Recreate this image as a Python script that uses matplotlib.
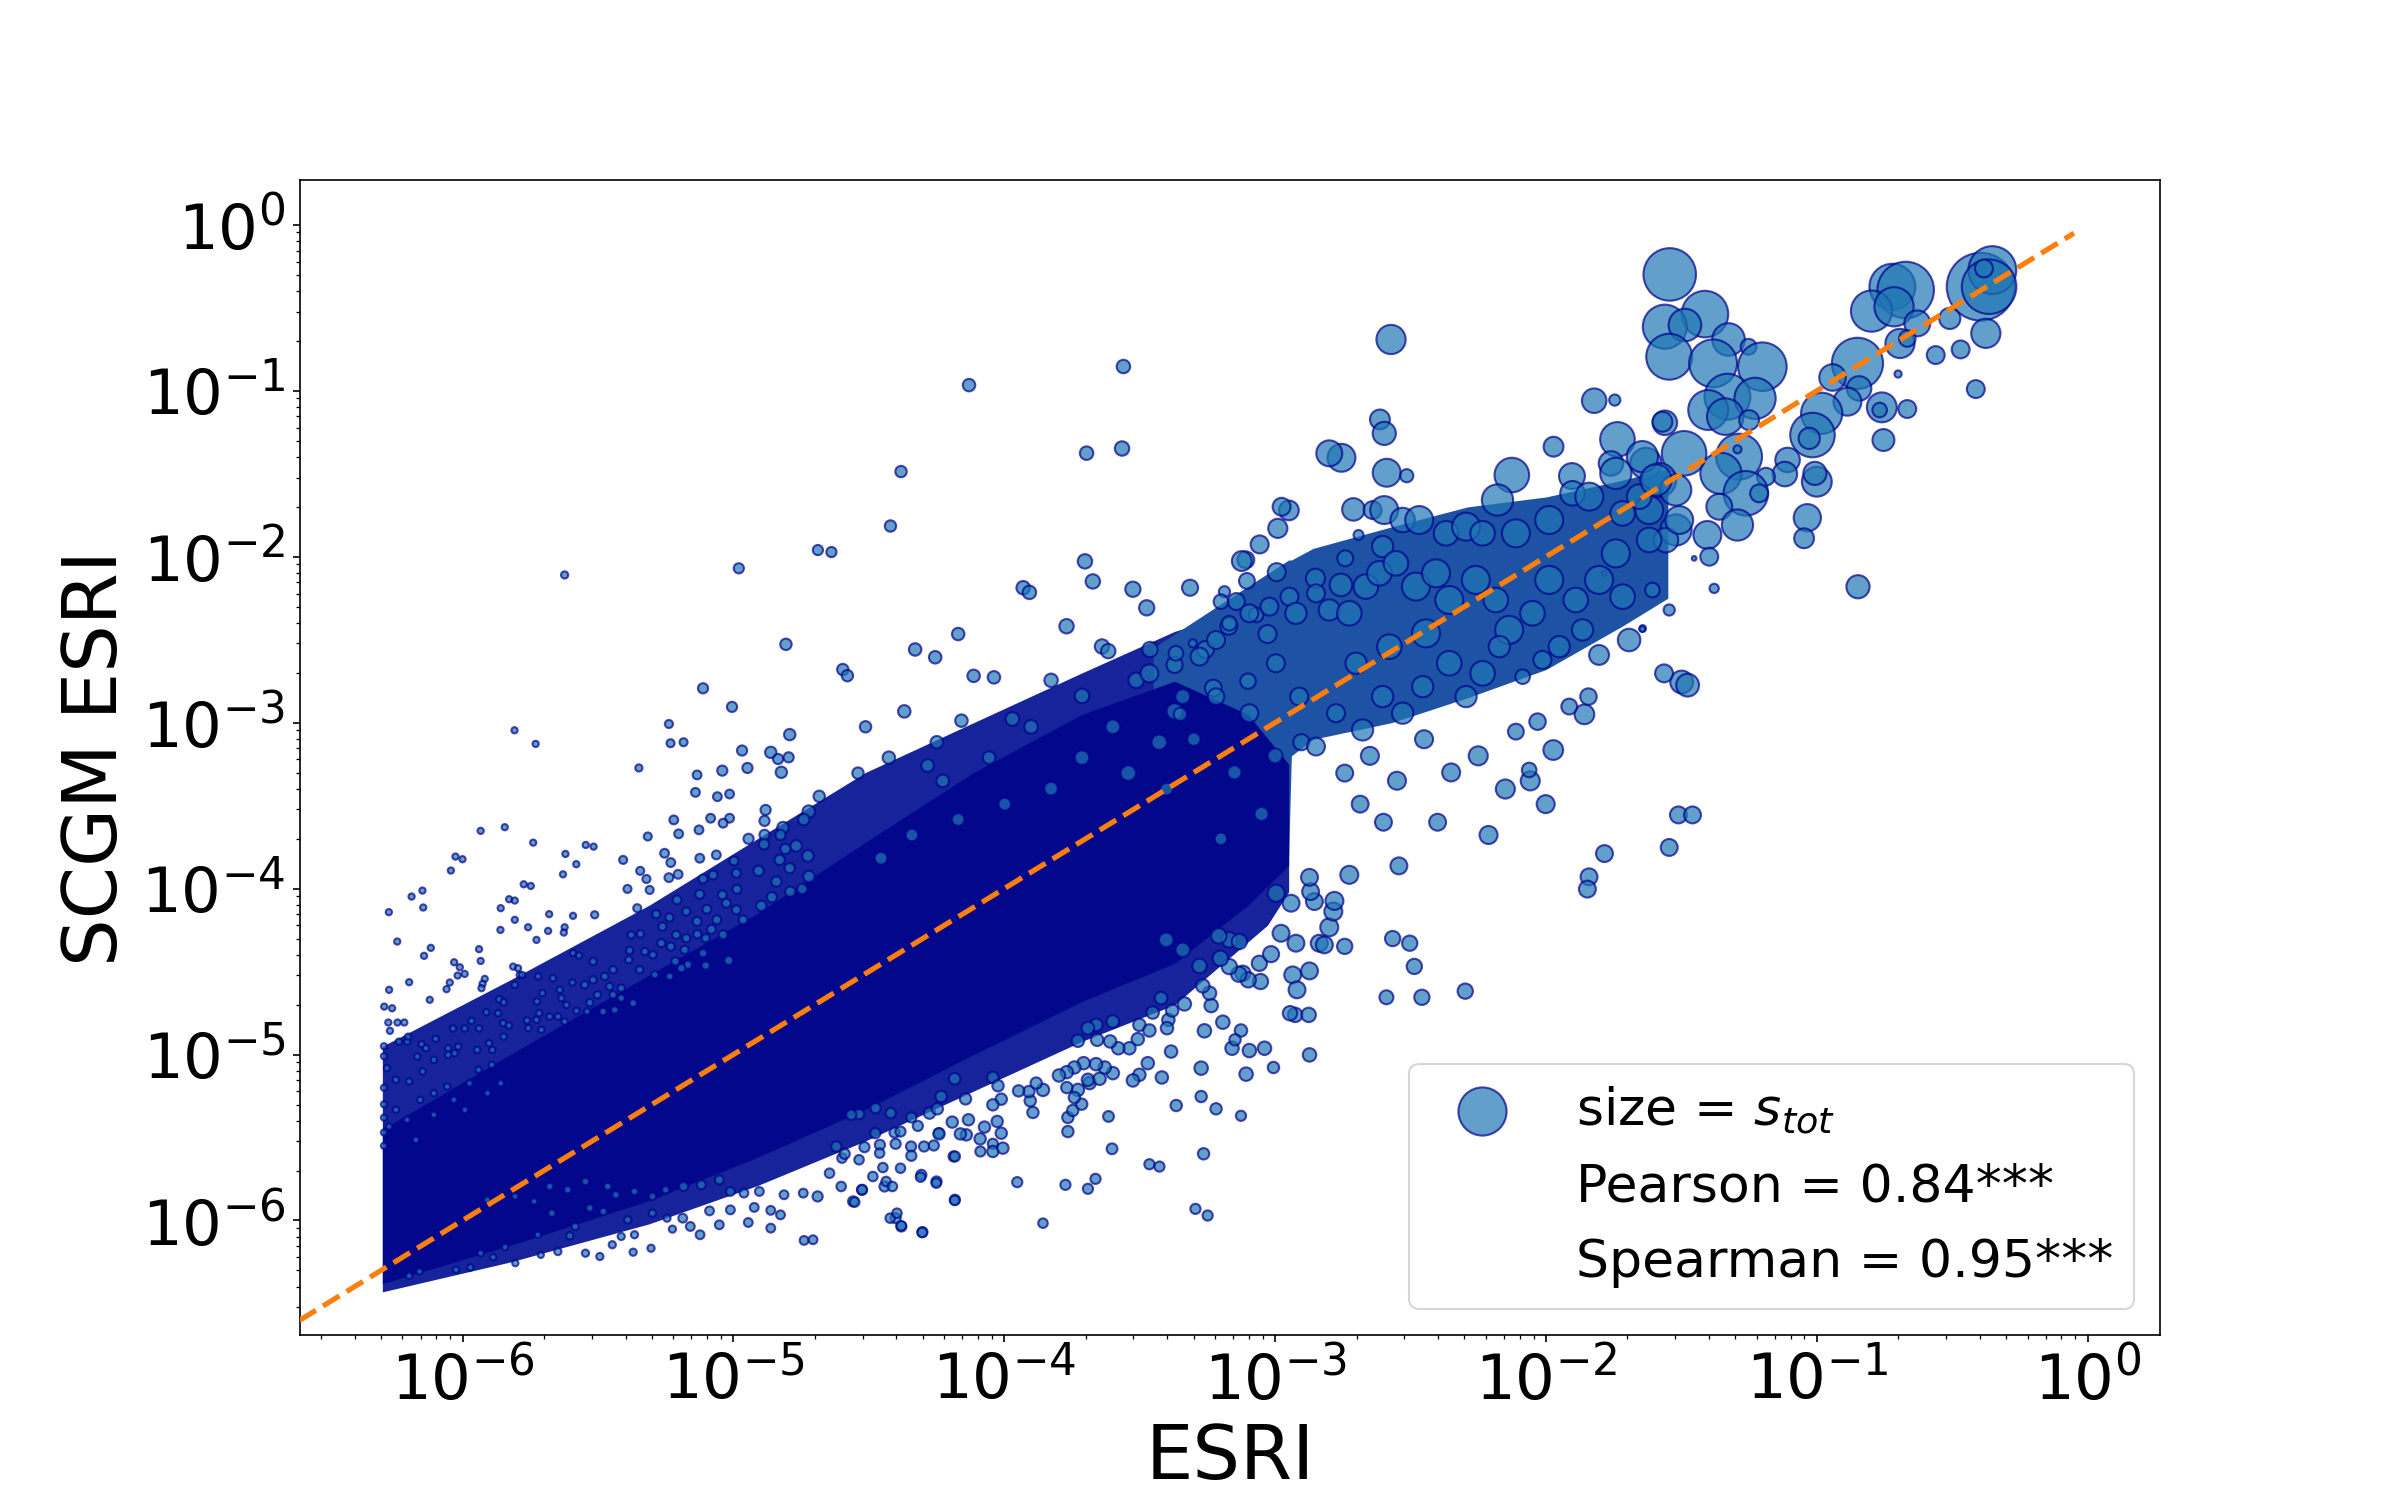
import numpy as np
import matplotlib.pyplot as plt

# all positions are log10(ESRI), log10(SCGM ESRI)
# densest part of the cloud, where the dots merge into a solid area
core_x = [-6.296, -5.824, -5.311, -4.912, -4.512, -4.113, -3.713, -3.371, -3.100, -2.950]
core_hi = [-5.45, -5.00, -4.52, -4.15, -3.72, -3.30, -2.95, -2.75, -2.95, -3.25]
core_lo = [-6.38, -6.15, -5.88, -5.62, -5.33, -5.00, -4.68, -4.45, -4.10, -3.86]

# less dense zone around it
halo_x = [-6.296, -5.824, -5.311, -4.912, -4.512, -4.113, -3.713, -3.371, -3.028, -2.950]
halo_hi = [-4.95, -4.55, -4.10, -3.70, -3.30, -3.00, -2.70, -2.45, -2.28, -2.25]
halo_lo = [-6.43, -6.25, -6.02, -5.79, -5.52, -5.22, -4.92, -4.70, -4.22, -4.02]

# overlapping medium bubbles further right
band_x = [-3.45, -3.14, -2.95, -2.94, -2.86, -2.57, -2.29, -2.00, -1.72, -1.55]
band_hi = [-2.55, -2.22, -2.02, -2.02, -1.95, -1.82, -1.70, -1.64, -1.54, -1.47]
band_lo = [-3.90, -3.85, -3.80, -3.20, -3.10, -3.00, -2.85, -2.68, -2.42, -2.25]

# (log10 x, log10 y, size) small points above the dense part, left side
pts_upper_left = [
    (-5.623, -2.110, 4), (-4.980, -2.070, 8), (-4.688, -1.960, 8), (-4.806, -2.528, 10), (-5.112, -2.793, 8),
    (-5.005, -2.905, 8), (-5.808, -3.046, 3), (-5.730, -3.128, 3), (-5.238, -3.008, 5), (-5.232, -3.124, 5),
    (-5.184, -3.118, 5), (-4.968, -3.168, 8), (-5.349, -3.273, 4), (-4.792, -3.072, 10), (-4.862, -3.179, 10),
    (-4.835, -3.219, 8), (-4.796, -3.209, 8), (-4.823, -3.299, 10), (-5.041, -3.289, 8), (-4.948, -3.273, 8),
    (-5.134, -3.315, 6), (-5.140, -3.420, 6), (-5.059, -3.446, 6), (-5.014, -3.430, 6), (-4.881, -3.526, 8),
    (-4.722, -3.536, 12), (-5.220, -3.586, 6), (-5.084, -3.576, 6), (-5.014, -3.576, 6), (-5.038, -3.606, 6),
    (-4.885, -3.592, 8), (-5.127, -3.646, 6), (-5.202, -3.670, 6), (-5.316, -3.686, 5), (-4.944, -3.700, 8),
    (-4.885, -3.676, 8), (-4.817, -3.632, 10), (-4.887, -3.733, 8), (-4.808, -3.761, 8), (-4.768, -3.743, 10),
    (-4.725, -3.803, 10), (-5.254, -3.787, 6), (-5.231, -3.843, 6), (-5.124, -3.817, 6), (-5.063, -3.797, 6),
    (-4.998, -3.833, 6), (-4.829, -3.827, 8), (-4.792, -3.877, 8), (-4.907, -3.893, 8), (-4.989, -3.907, 6),
    (-5.112, -3.942, 6), (-5.075, -3.918, 6), (-5.238, -3.934, 6), (-5.204, -3.914, 6), (-5.344, -3.893, 5),
    (-5.321, -3.942, 5), (-5.407, -3.827, 5), (-5.391, -4.002, 5), (-5.309, -4.008, 5), (-5.124, -4.034, 6),
    (-4.987, -4.004, 6), (-5.041, -4.038, 6), (-4.841, -3.958, 8), (-4.790, -4.018, 8), (-4.746, -4.002, 8),
    (-4.721, -3.927, 10), (-4.858, -4.052, 8), (-4.897, -4.104, 8), (-5.208, -4.068, 6), (-5.355, -4.118, 5),
    (-5.285, -4.154, 5), (-5.236, -4.174, 5), (-5.174, -4.138, 5), (-5.134, -4.198, 6), (-5.098, -4.124, 6),
    (-5.061, -4.188, 6), (-5.026, -4.088, 6), (-4.989, -4.128, 6), (-4.964, -4.188, 6), (-5.262, -4.229, 5),
    (-5.211, -4.279, 5), (-5.174, -4.299, 5), (-5.133, -4.275, 5), (-5.102, -4.299, 5), (-5.038, -4.279, 6),
    (-5.081, -4.245, 6), (-5.377, -4.279, 4), (-5.343, -4.273, 4), (-5.266, -4.329, 5), (-5.231, -4.349, 5),
    (-5.180, -4.369, 5), (-5.383, -4.373, 4), (-5.386, -4.429, 4), (-5.327, -4.379, 4), (-5.297, -4.399, 4),
    (-5.214, -4.439, 5), (-5.168, -4.459, 5), (-5.112, -4.389, 5), (-5.102, -4.464, 5), (-5.017, -4.433, 6),
    (-5.346, -4.489, 4), (-5.290, -4.519, 4), (-5.235, -4.529, 4), (-5.192, -4.480, 5), (-5.444, -4.489, 4),
    (-5.475, -4.529, 4), (-5.518, -4.550, 4), (-5.549, -4.580, 4), (-5.457, -4.590, 4), (-5.414, -4.600, 4),
    (-5.370, -4.690, 4), (-5.414, -4.660, 4), (-5.444, -4.640, 4), (-5.502, -4.640, 4), (-5.530, -4.687, 4),
    (-5.481, -4.741, 4), (-5.438, -4.731, 4), (-5.579, -4.737, 3), (-5.540, -4.741, 3), (-5.616, -4.701, 3),
    (-5.635, -4.660, 3), (-5.641, -4.610, 3), (-5.594, -4.566, 3), (-5.666, -4.540, 3), (-5.721, -4.529, 3),
    (-5.678, -4.771, 3), (-5.623, -4.801, 3), (-5.647, -4.771, 3), (-5.709, -4.851, 3), (-5.727, -4.791, 3),
    (-5.717, -4.751, 3), (-5.757, -4.841, 3), (-5.725, -4.680, 3), (-5.705, -4.630, 3), (-5.789, -4.520, 3),
    (-5.807, -4.580, 3), (-5.813, -4.470, 3), (-5.795, -4.480, 3), (-5.780, -4.520, 3), (-5.727, -4.309, 3),
    (-5.758, -4.233, 3), (-5.807, -4.188, 3), (-5.859, -4.118, 3), (-5.828, -4.064, 3), (-5.807, -4.072, 3),
    (-5.860, -4.249, 3), (-5.774, -3.974, 3), (-5.748, -3.984, 3), (-5.680, -4.154, 3), (-5.684, -4.255, 3),
    (-5.623, -4.233, 3), (-5.626, -4.265, 3), (-5.592, -4.164, 3), (-5.512, -4.158, 4), (-5.592, -4.389, 3),
    (-5.570, -4.403, 3), (-5.518, -4.439, 4), (-5.739, -3.723, 3), (-5.620, -3.791, 3), (-5.629, -3.914, 3),
    (-5.580, -3.853, 3), (-5.545, -3.737, 3), (-5.516, -3.747, 3), (-5.844, -3.630, 3), (-5.933, -3.652, 3),
    (-6.026, -3.807, 3), (-6.000, -3.823, 3), (-6.043, -3.891, 3), (-6.148, -4.012, 3), (-6.188, -4.048, 3),
    (-6.145, -4.114, 3), (-6.272, -4.142, 3), (-6.241, -4.319, 3), (-6.142, -4.405, 3), (-6.117, -4.357, 3),
    (-5.939, -4.365, 3), (-5.933, -4.436, 3), (-6.031, -4.444, 3), (-6.010, -4.474, 3), (-6.018, -4.524, 3),
    (-5.992, -4.514, 3), (-6.047, -4.566, 3), (-6.059, -4.606, 3), (-5.918, -4.544, 3), (-5.926, -4.574, 3),
    (-5.930, -4.600, 3), (-6.197, -4.564, 3), (-6.271, -4.610, 3), (-6.121, -4.670, 3), (-6.289, -4.711, 3),
    (-6.260, -4.721, 3), (-6.274, -4.807, 3), (-6.240, -4.807, 3), (-6.215, -4.807, 3), (-6.268, -4.857, 3),
    (-6.235, -4.922, 3), (-6.204, -4.922, 3), (-6.201, -4.892, 3), (-6.151, -4.938, 3), (-6.135, -4.962, 3),
    (-6.099, -4.905, 3), (-6.035, -4.843, 3), (-5.992, -4.843, 3), (-5.967, -4.797, 3), (-5.939, -4.843, 3),
    (-5.912, -4.745, 3), (-5.869, -4.751, 3), (-5.865, -4.667, 3), (-5.848, -4.685, 3), (-5.850, -4.811, 3),
    (-5.829, -4.825, 3), (-5.848, -4.892, 3), (-5.902, -4.932, 3), (-5.890, -4.972, 3), (-5.946, -4.972, 3),
    (-6.053, -4.962, 3), (-6.016, -4.952, 3), (-6.053, -5.002, 3), (-6.029, -4.992, 3), (-6.167, -5.012, 3),
    (-5.762, -4.795, 3),
    (-6.279, -5.082, 3), (-6.246, -5.152, 3), (-6.197, -5.162, 3), (-6.147, -5.102, 3), (-6.106, -5.032, 3),
    (-6.156, -5.273, 3), (-6.106, -5.233, 3), (-6.057, -5.193, 3), (-6.246, -5.333, 3), (-6.205, -5.393, 3),
    (-6.271, -5.434, 3), (-6.172, -5.514, 3), (-6.106, -5.363, 3), (-6.032, -5.273, 3), (-5.974, -5.173, 3),
    (-5.941, -5.092, 3), (-5.892, -5.062, 3), (-5.908, -5.233, 3), (-5.991, -5.333, 3), (-5.859, -5.173, 3),
    (-6.290, -5.200, 3), (-6.290, -5.300, 3), (-6.290, -5.380, 3), (-6.290, -5.470, 3), (-6.290, -5.550, 3),
    (-6.290, -4.950, 3), (-6.290, -5.010, 3),
]

# small points below the dense part, left side
pts_lower_left = [
    (-6.197, -6.333, 3), (-6.159, -6.307, 3), (-6.024, -6.297, 3), (-5.971, -6.283, 3), (-5.887, -6.221, 3),
    (-5.805, -6.257, 3), (-5.933, -6.197, 3), (-5.843, -6.160, 3), (-5.711, -6.207, 3), (-5.648, -6.187, 4),
    (-5.546, -6.197, 4), (-5.493, -6.217, 4), (-5.370, -6.191, 4), (-5.304, -6.167, 4), (-5.447, -6.146, 4),
    (-5.722, -6.086, 3), (-5.604, -6.092, 4), (-5.414, -6.096, 4), (-5.365, -6.086, 4), (-5.225, -6.052, 4),
    (-5.123, -6.086, 6), (-5.187, -5.986, 6), (-5.159, -6.036, 6), (-5.052, -6.026, 6), (-4.945, -6.012, 6),
    (-4.862, -6.046, 6), (-4.739, -6.120, 6), (-4.706, -6.116, 6), (-4.826, -5.966, 6), (-4.923, -5.921, 6),
    (-5.011, -5.936, 6), (-5.088, -5.942, 6), (-5.245, -5.986, 4), (-5.299, -5.956, 4), (-5.390, -5.996, 4),
    (-5.480, -5.946, 4), (-5.530, -5.925, 4), (-5.584, -6.036, 4), (-5.670, -5.956, 4), (-5.736, -5.885, 3),
    (-5.806, -5.855, 3), (-5.909, -5.875, 3), (-4.558, -5.885, 8), (-4.525, -5.815, 8), (-4.442, -5.795, 8),
    (-4.380, -6.036, 8), (-4.401, -5.986, 8), (-4.302, -6.070, 8), (-4.250, -5.765, 8), (-4.182, -5.875, 8),
    (-4.306, -5.725, 8), (-4.401, -5.538, 8), (-4.344, -5.554, 8), (-4.459, -5.544, 8), (-4.241, -5.474, 8),
    (-4.187, -5.614, 8), (-4.088, -5.584, 8), (-4.042, -5.538, 8), (-4.689, -5.855, 8), (-4.742, -5.835, 6),
    (-4.813, -5.845, 6), (-4.862, -5.939, 6), (-4.904, -5.825, 6), (-4.961, -5.835, 6), (-5.011, -5.825, 6),
    (-5.052, -5.755, 6), (-5.118, -5.785, 6), (-5.184, -5.795, 6), (-5.250, -5.815, 4), (-5.299, -5.855, 4),
    (-5.365, -5.825, 4), (-5.434, -5.845, 4), (-5.464, -5.795, 4), (-5.546, -5.765, 4), (-5.612, -5.815, 4),
    (-5.678, -5.795, 4),
]

# points below the line in the middle of the range
pts_lower_mid = [
    (-4.602, -5.795, 7), (-4.552, -5.889, 7), (-4.525, -5.815, 7), (-4.485, -5.735, 7), (-4.448, -5.681, 7),
    (-4.436, -5.765, 7), (-4.413, -5.795, 7), (-4.421, -5.986, 7), (-4.396, -5.956, 7), (-4.380, -6.032, 7),
    (-4.383, -5.685, 7), (-4.303, -6.072, 7), (-4.309, -5.739, 7), (-4.251, -5.775, 7), (-4.183, -5.879, 7),
    (-4.182, -5.614, 8), (-4.343, -5.610, 8), (-4.296, -5.554, 8), (-4.260, -5.548, 8), (-4.460, -5.594, 7),
    (-4.536, -5.634, 7), (-4.599, -5.624, 7), (-4.645, -5.715, 7), (-3.952, -5.769, 8), (-3.857, -6.016, 7),
    (-3.774, -5.785, 8), (-3.691, -5.809, 8), (-3.663, -5.749, 8), (-3.602, -5.568, 9), (-3.615, -5.373, 9),
    (-3.464, -5.661, 8), (-3.427, -5.675, 8), (-3.294, -5.930, 8), (-3.249, -5.970, 8), (-3.264, -5.598, 10),
    (-3.365, -5.307, 10), (-3.273, -5.253, 10), (-3.218, -5.327, 10), (-3.126, -5.369, 8), (-3.273, -5.082, 14),
    (-3.006, -5.078, 10), (-3.107, -5.118, 14), (-2.873, -5.002, 14), (-3.039, -4.962, 14), (-3.095, -4.976, 14),
    (-3.159, -4.962, 14), (-3.126, -4.855, 12), (-3.148, -4.911, 10), (-3.261, -4.857, 14), (-3.193, -4.805, 14),
    (-3.384, -4.982, 12), (-3.418, -5.138, 12), (-3.470, -5.052, 12), (-3.501, -5.122, 12), (-3.525, -5.156, 12),
    (-3.599, -5.112, 12), (-3.765, -5.464, 10), (-3.765, -5.379, 10), (-3.747, -5.337, 10), (-3.714, -5.299, 10),
    (-3.728, -5.213, 12), (-3.769, -5.199, 10), (-3.741, -5.259, 10), (-3.685, -5.172, 12), (-3.691, -5.152, 12),
    (-3.648, -5.146, 12), (-3.629, -5.078, 12), (-3.661, -5.058, 12), (-3.707, -5.052, 12), (-3.741, -5.078, 12),
    (-3.769, -5.106, 12), (-3.798, -5.126, 12), (-3.857, -5.213, 12), (-3.894, -5.349, 10), (-3.904, -5.279, 10),
    (-3.909, -5.223, 10), (-3.882, -5.172, 10), (-3.947, -5.219, 10), (-4.011, -5.269, 10), (-4.042, -5.303, 10),
    (-4.011, -5.474, 10), (-4.042, -5.584, 10), (-4.005, -5.564, 10), (-4.026, -5.403, 10), (-4.073, -5.437, 10),
    (-4.089, -5.508, 10), (-4.140, -5.484, 10), (-4.162, -5.478, 10), (-4.132, -5.393, 10), (-4.192, -5.407, 10),
    (-4.241, -5.478, 10), (-4.276, -5.353, 10), (-4.247, -5.327, 10), (-4.143, -5.267, 10), (-4.233, -5.253, 10),
    (-4.183, -5.146, 10), (-4.042, -5.138, 10), (-4.023, -5.188, 10), (-4.476, -5.474, 8), (-4.405, -5.470, 8),
    (-4.383, -5.464, 8), (-4.319, -5.430, 8), (-4.343, -5.379, 8), (-4.419, -5.353, 8), (-4.475, -5.323, 8),
    (-4.536, -5.359, 8), (-4.565, -5.363, 8), (-4.620, -5.554, 8), (-4.589, -5.598, 8), (-4.516, -5.558, 8),
    (-2.926, -4.761, 16), (-2.876, -4.761, 16), (-2.945, -4.751, 16), (-3.236, -4.705, 14), (-3.335, -4.695, 14),
    (-3.242, -4.630, 14), (-3.267, -4.586, 14), (-3.394, -4.791, 12), (-3.380, -4.735, 12), (-3.399, -4.841, 12),
    (-3.421, -4.660, 12), (-3.452, -4.747, 12), (-3.501, -4.821, 12), (-3.464, -4.855, 12), (-3.507, -4.907, 12),
    (-3.538, -4.962, 12), (-3.579, -4.962, 12), (-3.609, -4.921, 12), (-3.657, -4.911, 12), (-3.728, -4.917, 12),
    (-3.599, -4.801, 12), (-3.660, -4.821, 12), (-3.691, -4.841, 12), (-3.119, -4.510, 18), (-3.058, -4.450, 18),
    (-3.054, -4.560, 18), (-3.099, -4.550, 18), (-3.134, -4.516, 18), (-2.978, -4.269, 22), (-2.923, -4.329, 22),
    (-2.873, -4.496, 22), (-2.935, -4.520, 22), (-2.919, -4.610, 22), (-2.837, -4.329, 22), (-2.818, -4.339, 22),
    (-2.800, -4.233, 25), (-2.785, -4.138, 25), (-2.781, -4.074, 25), (-2.855, -4.078, 22), (-2.869, -4.018, 22),
    (-2.873, -3.932, 22), (-2.941, -4.088, 22), (-2.996, -4.028, 22), (-3.015, -4.395, 20), (-3.169, -4.470, 18),
    (-3.202, -4.420, 18), (-3.279, -4.466, 16), (-3.341, -4.369, 16), (-3.169, -4.309, 18), (-3.132, -4.319, 18),
    (-3.208, -4.285, 18), (-3.402, -4.309, 16), (-2.726, -3.917, 25),
]

# points above the line in the middle of the range
pts_upper_mid = [
    (-4.638, -1.972, 8), (-4.420, -1.815, 10), (-4.381, -1.487, 10), (-4.130, -0.966, 12), (-3.560, -0.854, 14),
    (-3.696, -1.376, 14), (-3.565, -1.348, 16), (-4.596, -2.680, 10), (-4.579, -2.717, 10), (-4.329, -2.559, 12),
    (-4.255, -2.606, 12), (-4.170, -2.466, 12), (-4.113, -2.718, 12), (-4.038, -2.727, 12), (-3.930, -2.187, 14),
    (-3.907, -2.215, 14), (-3.702, -2.028, 16), (-3.673, -2.149, 16), (-3.639, -2.541, 16), (-3.616, -2.569, 16),
    (-3.525, -2.196, 18), (-3.474, -2.308, 18), (-3.462, -2.559, 18), (-3.314, -2.187, 20), (-3.143, -2.270, 22),
    (-3.108, -2.019, 22), (-3.057, -1.926, 25), (-2.949, -1.721, 30), (-2.994, -2.093, 25), (-2.851, -2.130, 28),
    (-2.755, -1.404, 60), (-3.770, -2.419, 16), (-3.827, -2.745, 14), (-3.901, -3.025, 14), (-4.158, -2.988, 12),
    (-4.249, -3.118, 12), (-4.426, -3.211, 12), (-4.540, -3.304, 10), (-4.512, -3.025, 10), (-4.369, -2.932, 12),
    (-4.283, -3.258, 12), (-4.056, -3.211, 12), (-3.970, -2.978, 14), (-3.713, -2.839, 16), (-3.599, -3.025, 16),
    (-3.513, -2.745, 18), (-3.371, -2.652, 20), (-3.257, -2.559, 22), (-3.713, -3.211, 16), (-3.827, -3.398, 14),
    (-3.998, -3.491, 12), (-4.170, -3.584, 12), (-4.341, -3.677, 12), (-4.455, -3.817, 12), (-4.227, -3.351, 12),
    (-3.371, -2.932, 20), (-3.228, -2.792, 22), (-3.171, -2.419, 22), (-3.028, -2.466, 25), (-3.542, -3.304, 18),
    (-3.428, -3.118, 18), (-4.740, -3.584, 10), (-4.683, -3.444, 10), (-4.826, -3.677, 8),
]

# scattered points below the line on the right
pts_lower_right = [
    (-2.903, -3.118, 20), (-2.743, -3.304, 22), (-2.686, -3.491, 22), (-2.543, -3.863, 22), (-2.503, -4.329, 18),
    (-2.486, -4.469, 18), (-2.458, -4.655, 18), (-2.298, -4.618, 18), (-2.566, -4.301, 18), (-2.589, -4.655, 15),
    (-2.743, -4.348, 18), (-2.212, -3.677, 25), (-2.058, -3.351, 28), (-2.001, -3.491, 25), (-1.973, -3.165, 30),
    (-1.858, -2.950, 30), (-1.841, -3.929, 22), (-1.847, -4.003, 22), (-1.784, -3.789, 22), (-1.545, -3.752, 22),
    (-1.511, -3.556, 22), (-1.459, -3.556, 22), (-1.499, -2.755, 40), (-1.477, -2.774, 40),
    (-2.650, -3.200, 25), (-2.550, -3.350, 25), (-2.450, -3.100, 25), (-2.350, -3.300, 25), (-2.250, -3.200, 28),
    (-2.150, -3.400, 28), (-2.600, -3.600, 22), (-2.400, -3.600, 22),
]

# large bubbles, the biggest s_tot values
bubbles = [
    (-1.543, -0.299, 637), (-1.413, -0.538, 500), (-1.561, -0.614, 449), (-1.487, -0.604, 245), (-1.545, -0.795, 486),
    (-1.326, -0.691, 245), (-1.383, -0.835, 529), (-1.252, -0.735, 58), (-1.201, -0.855, 544), (-1.330, -1.036, 486),
    (-1.228, -1.046, 392), (-1.401, -1.116, 367), (-1.338, -1.156, 308), (-1.250, -1.177, 91), (-1.561, -1.193, 139),
    (-0.721, -0.373, 486), (-0.672, -0.393, 738), (-0.798, -0.520, 392), (-0.715, -0.494, 355), (-0.629, -0.594, 155),
    (-0.693, -0.715, 197), (-0.666, -0.685, 63), (-0.509, -0.564, 104), (-0.395, -0.373, 1063), (-0.352, -0.273, 529),
    (-0.364, -0.373, 686), (-0.383, -0.263, 74), (-0.376, -0.654, 197), (-0.469, -0.751, 74), (-0.561, -0.785, 74),
    (-0.413, -0.990, 74), (-0.700, -0.899, 12), (-0.850, -0.835, 605), (-0.942, -0.920, 163), (-0.844, -0.986, 139),
    (-0.887, -1.066, 180), (-0.982, -1.136, 392), (-1.016, -1.267, 458), (-1.028, -1.287, 104), (-0.760, -1.100, 206),
    (-0.768, -1.116, 49), (-0.666, -1.110, 74), (-0.754, -1.297, 111), (-1.108, -1.417, 139), (-1.118, -1.502, 139),
    (-1.000, -1.548, 206), (-1.007, -1.498, 124), (-1.035, -1.765, 171), (-1.047, -1.889, 91), (-0.848, -2.181, 124),
    (-1.188, -1.518, 74), (-1.287, -1.397, 486), (-1.354, -1.498, 392), (-1.490, -1.377, 458), (-1.262, -1.618, 458),
    (-1.360, -1.699, 155), (-1.293, -1.809, 225), (-1.404, -1.869, 180), (-1.397, -2.000, 74), (-1.520, -1.839, 225),
    (-1.607, -2.201, 49), (-1.545, -2.321, 29), (-1.379, -2.191, 20), (-1.643, -2.432, 10), (-1.453, -2.010, 5),
    (-1.293, -1.353, 15), (-1.631, -1.438, 225), (-1.582, -1.538, 268), (-1.521, -1.598, 225), (-1.619, -1.719, 180),
    (-1.557, -1.900, 139), (-1.508, -1.779, 180), (-1.656, -1.638, 139), (-1.213, -1.618, 74),
    (-2.572, -0.691, 197), (-1.822, -1.060, 139), (-1.746, -1.056, 29), (-2.613, -1.173, 91), (-2.597, -1.257, 124),
    (-2.800, -1.377, 155), (-1.972, -1.337, 91), (-1.736, -1.293, 276), (-1.570, -1.187, 91), (-2.588, -1.494, 180),
    (-2.514, -1.512, 40), (-2.126, -1.508, 276), (-2.179, -1.658, 225), (-1.904, -1.514, 155), (-1.760, -1.438, 139),
    (-2.711, -1.715, 117), (-2.976, -1.699, 74), (-2.990, -1.829, 85), (-2.692, -1.869, 23), (-3.123, -2.026, 91),
    (-3.104, -2.146, 58), (-2.741, -2.010, 58), (-3.187, -2.211, 29), (-3.200, -2.271, 49), (-3.070, -2.351, 49),
    (-3.304, -2.522, 15), (-2.757, -2.170, 117), (-1.693, -2.502, 117), (-1.804, -2.592, 91), (-2.086, -2.723, 49),
    (-1.843, -2.843, 63), (-1.914, -2.903, 58), (-2.031, -2.994, 63), (-2.111, -3.054, 58), (-2.062, -3.285, 49),
    (-1.564, -2.703, 74), (-1.644, -2.436, 8), (-1.785, -2.100, 5),
    (-2.640, -1.719, 74), (-2.597, -1.719, 180), (-2.529, -1.779, 139), (-2.468, -1.779, 180), (-2.369, -1.859, 139),
    (-2.295, -1.819, 180), (-2.234, -1.859, 139), (-2.111, -1.859, 180), (-1.988, -1.779, 180), (-1.902, -1.618, 139),
    (-1.840, -1.638, 180), (-1.742, -1.498, 225), (-1.644, -1.397, 225), (-1.594, -1.538, 225), (-1.717, -1.739, 139),
    (-1.619, -1.899, 139), (-1.742, -1.980, 180),
    (-3.464, -2.703, 74), (-3.366, -2.582, 49), (-3.279, -2.602, 74), (-3.218, -2.502, 74), (-3.169, -2.401, 49),
    (-3.095, -2.341, 74), (-3.021, -2.301, 74), (-2.947, -2.241, 74), (-2.923, -2.341, 104), (-2.849, -2.221, 74),
    (-2.800, -2.321, 104), (-2.726, -2.341, 139), (-2.665, -2.180, 139), (-2.615, -2.100, 139), (-2.603, -1.939, 104),
    (-2.554, -2.040, 139), (-2.480, -2.180, 180), (-2.406, -2.100, 180), (-2.357, -2.261, 180), (-2.259, -2.140, 180),
    (-2.185, -2.261, 139), (-2.136, -2.441, 180), (-2.050, -2.341, 139), (-1.988, -2.140, 180), (-1.890, -2.261, 139),
    (-1.804, -2.140, 180), (-1.717, -2.241, 139), (-2.234, -2.703, 139), (-2.295, -2.843, 104), (-2.357, -2.642, 139),
    (-2.455, -2.783, 104), (-2.529, -2.943, 104), (-2.603, -2.843, 104), (-2.677, -3.044, 104), (-2.775, -2.943, 74),
    (-2.849, -3.144, 74), (-2.911, -2.843, 74), (-2.997, -2.642, 74), (-3.095, -2.943, 74), (-3.218, -2.843, 63),
    (-3.341, -2.843, 49), (-1.951, -2.542, 104), (-2.013, -2.622, 74), (-1.865, -2.441, 104), (-2.172, -2.542, 104),
    (-2.443, -2.462, 180), (-2.578, -2.542, 139), (-2.701, -2.642, 104),
    (-3.30, -3.10, 40), (-3.15, -3.30, 45), (-3.05, -3.55, 45), (-3.20, -3.70, 35), (-3.00, -3.20, 50),
    (-3.40, -3.40, 35), (-3.10, -2.75, 55), (-3.35, -2.95, 40),
]

line_lims = [2.5e-7, 0.89]
pearson = 0.84
spearman = 0.95

small_scale = 3.0  # small dots drawn a bit larger since only a sample of them is listed

fig, ax = plt.subplots(figsize=(16, 10), dpi=150)
ax.set_xscale('log')
ax.set_yscale('log')


def area(xs, lo, hi, **kw):
    ax.fill_between(10 ** np.array(xs), 10 ** np.array(lo), 10 ** np.array(hi), lw=0, **kw)


area(halo_x, halo_lo, halo_hi, color='#16239a', zorder=1)
area(band_x, band_lo, band_hi, color='#1d52a5', zorder=1)
area(core_x, core_lo, core_hi, color='#03078b', zorder=1)

style = dict(c='C0', alpha=0.7, edgecolors='darkblue', linewidths=1, zorder=2)
for group in [pts_upper_left, pts_lower_left, pts_lower_mid, pts_upper_mid, pts_lower_right]:
    g = np.array(group)
    ax.scatter(10 ** g[:, 0], 10 ** g[:, 1], s=g[:, 2] * small_scale, **style)
b = np.array(bubbles)
ax.scatter(10 ** b[:, 0], 10 ** b[:, 1], s=b[:, 2], label='size = $s_{tot}$', **style)

ax.plot(line_lims, line_lims, '--', color='C1', lw=2.5, zorder=3)
ax.plot([], [], ' ', label=f'Pearson = {pearson:.2f}***')
ax.plot([], [], ' ', label=f'Spearman = {spearman:.2f}***')

ax.set_xlim(10 ** -6.60, 10 ** 0.267)
ax.set_ylim(10 ** -6.69, 10 ** 0.27)
ax.set_xlabel('ESRI', fontsize=36)
ax.set_ylabel('SCGM ESRI', fontsize=36)
ax.tick_params(labelsize=30)
ax.legend(loc='lower right', fontsize=25)

fig.savefig('out.png', dpi=150)
